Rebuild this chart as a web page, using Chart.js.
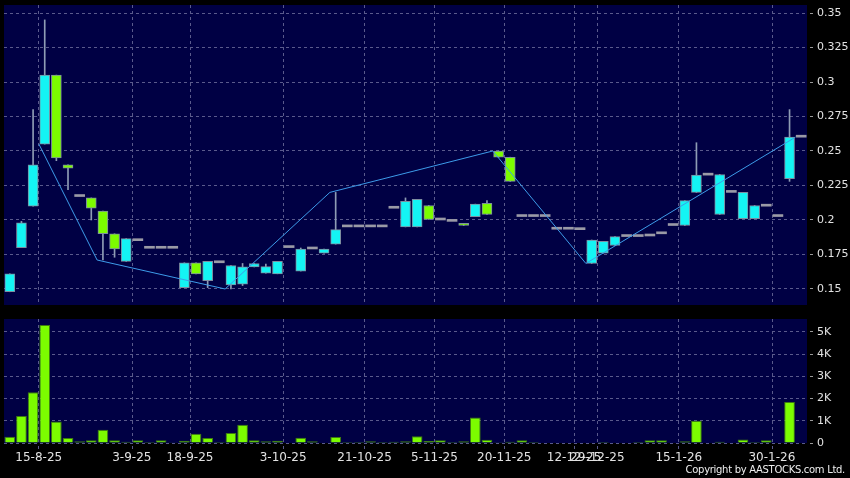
<!DOCTYPE html>
<html>
<head>
<meta charset="utf-8">
<script src="https://cdn.jsdelivr.net/npm/chart.js@4.4.1/dist/chart.umd.min.js"></script>
<style>
  html, body { margin: 0; padding: 0; background: #000; }
  #wrap { position: relative; width: 850px; height: 478px; overflow: hidden; background: #000; }
  #priceChart { position: absolute; left: 0; top: 0; }
  #volChart { position: absolute; left: 0; top: 310px; }
  #copy { position: absolute; right: 5px; top: 464px; font: 10px "DejaVu Sans"; letter-spacing: -0.3px; color: #eee; line-height: 12px; }
</style>
</head>
<body>
<div id="wrap">
  <canvas id="priceChart" width="850" height="310"></canvas>
  <canvas id="volChart" width="850" height="168"></canvas>
  <div id="copy">Copyright by AASTOCKS.com Ltd.</div>
</div>
<script>
// zilele (doar cele cu eticheta au text)
var dates = [
  '', '', '', '15-8-25', '', '', '', '', '', '',
  '', '3-9-25', '', '', '', '', '18-9-25', '', '', '',
  '', '', '', '', '3-10-25', '', '', '', '', '',
  '', '21-10-25', '', '', '', '', '', '5-11-25', '', '',
  '', '', '', '20-11-25', '', '', '', '', '', '12-12-25',
  '', '29-12-25', '', '', '', '', '', '', '15-1-26', '',
  '', '', '', '', '', '', '30-1-26', '', ''
];

var openP = [
  0.148, 0.18, 0.21, 0.255, 0.305, 0.24, 0.217, 0.216, 0.2065, 0.19,
  0.17, 0.185, 0.1795, 0.1795, 0.1795, 0.151, 0.169, 0.156, 0.169, 0.153,
  0.1535, 0.166, 0.1615, 0.161, 0.18, 0.163, 0.179, 0.176, 0.1825, 0.195,
  0.195, 0.195, 0.195, 0.2085, 0.195, 0.195, 0.2105, 0.2, 0.199, 0.1975,
  0.2025, 0.212, 0.25, 0.2455, 0.2025, 0.2025, 0.2025, 0.1933, 0.1933, 0.193,
  0.1685, 0.176, 0.1815, 0.188, 0.188, 0.1884, 0.19, 0.196, 0.196, 0.22,
  0.2325, 0.204, 0.22, 0.201, 0.201, 0.21, 0.2025, 0.23, 0.26
];
var highP = [
  0.161, 0.199, 0.28, 0.345, 0.305, 0.24, 0.217, 0.216, 0.2065, 0.19,
  0.1865, 0.185, 0.1795, 0.1795, 0.1795, 0.169, 0.169, 0.17, 0.169, 0.167,
  0.1685, 0.1685, 0.168, 0.17, 0.18, 0.1797, 0.179, 0.179, 0.22, 0.195,
  0.195, 0.195, 0.195, 0.2085, 0.216, 0.215, 0.2105, 0.2, 0.199, 0.1975,
  0.2115, 0.214, 0.25, 0.2455, 0.2025, 0.2025, 0.2025, 0.1933, 0.1933, 0.193,
  0.1855, 0.1845, 0.188, 0.188, 0.188, 0.1884, 0.19, 0.196, 0.214, 0.256,
  0.2325, 0.233, 0.22, 0.22, 0.2105, 0.21, 0.2025, 0.28, 0.26
];
var lowP = [
  0.148, 0.18, 0.21, 0.255, 0.243, 0.222, 0.217, 0.2, 0.171, 0.173,
  0.17, 0.185, 0.1795, 0.1795, 0.1795, 0.151, 0.161, 0.151, 0.169, 0.15,
  0.1525, 0.166, 0.1615, 0.161, 0.18, 0.163, 0.179, 0.176, 0.1825, 0.195,
  0.195, 0.195, 0.195, 0.2085, 0.195, 0.195, 0.2005, 0.2, 0.199, 0.196,
  0.2025, 0.204, 0.2455, 0.228, 0.2025, 0.2025, 0.2025, 0.1933, 0.1933, 0.193,
  0.1685, 0.176, 0.1815, 0.188, 0.188, 0.1884, 0.19, 0.196, 0.196, 0.22,
  0.2325, 0.204, 0.22, 0.201, 0.201, 0.21, 0.2025, 0.228, 0.26
];
var closeP = [
  0.161, 0.198, 0.24, 0.305, 0.245, 0.2375, 0.217, 0.2085, 0.19, 0.179,
  0.1865, 0.185, 0.1795, 0.1795, 0.1795, 0.169, 0.161, 0.17, 0.169, 0.167,
  0.166, 0.1685, 0.1662, 0.17, 0.18, 0.179, 0.179, 0.179, 0.193, 0.195,
  0.195, 0.195, 0.195, 0.2085, 0.2135, 0.215, 0.2005, 0.2, 0.199, 0.196,
  0.2115, 0.204, 0.2455, 0.228, 0.2025, 0.2025, 0.2025, 0.1933, 0.1933, 0.193,
  0.1855, 0.1845, 0.188, 0.188, 0.188, 0.1884, 0.19, 0.196, 0.214, 0.2325,
  0.2325, 0.233, 0.22, 0.22, 0.2105, 0.21, 0.2025, 0.26, 0.26
];
var volume = [
  280, 1220, 2280, 5310, 970, 220, 75, 120, 600, 120,
  60, 120, 45, 120, 15, 100, 420, 220, 40, 450,
  820, 120, 75, 100, 0, 240, 75, 0, 270, 40,
  40, 75, 40, 60, 75, 300, 90, 120, 40, 75,
  1150, 150, 10, 60, 120, 40, 0, 0, 0, 0,
  0, 40, 0, 0, 40, 120, 120, 0, 75, 1000,
  0, 60, 0, 160, 40, 120, 0, 1840, 0
];
// linia zigzag (index zi, valoare)
var zigIdx = [3, 8, 19, 28, 42, 50, 68];
var zigVal = [0.255, 0.171, 0.15, 0.22, 0.25, 0.1685, 0.26];

var navy = '#000044';
var gridCol = '#5a5a8c';
var textCol = '#e2e2e2';
var upCol = '#14f4f4';
var downCol = '#7cfc00';
var flatCol = '#9a9aa6';

// fundal albastru pentru zona graficului
var bgPlugin = {
  id: 'bg',
  beforeDraw: function(chart) {
    var a = chart.chartArea;
    chart.ctx.save();
    chart.ctx.fillStyle = navy;
    chart.ctx.fillRect(a.left, a.top, a.right - a.left, a.bottom - a.top);
    chart.ctx.restore();
  }
};

var bodies = openP.map(function(o, i) {
  return [Math.min(o, closeP[i]), Math.max(o, closeP[i])];
});
var wicks = highP.map(function(h, i) {
  return h > lowP[i] ? [lowP[i], h] : null;
});
var bodyColors = openP.map(function(o, i) {
  if (closeP[i] > o) return upCol;
  if (closeP[i] < o) return downCol;
  return flatCol;
});
var bodyBorders = openP.map(function(o, i) {
  return closeP[i] === o ? 0 : 1;
});
var zig = zigIdx.map(function(x, k) { return { x: x, y: zigVal[k] }; });

function vGrid(ctx) {
  return dates[ctx.index] ? gridCol : 'rgba(0,0,0,0)';
}
function noPad(s) {
  s.paddingTop = 0; s.paddingBottom = 0; s.paddingLeft = 0; s.paddingRight = 0;
}

new Chart('priceChart', {
  type: 'bar',
  data: {
    labels: dates,
    datasets: [{
      data: wicks,
      backgroundColor: '#8e9cb4',
      barThickness: 1,
      grouped: false,
      order: 3
    }, {
      data: bodies,
      backgroundColor: bodyColors,
      borderColor: '#7d8da0',
      borderWidth: bodyBorders,
      borderSkipped: false,
      barThickness: 10,
      minBarLength: 2,
      grouped: false,
      order: 2
    }, {
      type: 'line',
      xAxisID: 'xl',
      data: zig,
      borderColor: '#3d9be9',
      borderWidth: 1,
      pointRadius: 0,
      tension: 0,
      order: 1
    }]
  },
  options: {
    responsive: false,
    animation: false,
    layout: { padding: { left: 4, right: 0, top: 5, bottom: 5 } },
    plugins: { legend: { display: false }, tooltip: { enabled: false } },
    scales: {
      x: {
        offset: true,
        grid: { offset: true, color: vGrid, drawTicks: false },
        border: { display: false, dash: [3, 3] },
        ticks: { display: false },
        afterFit: function(s) { s.height = 0; noPad(s); }
      },
      // axa ascunsa pentru zigzag: punctele cad pe marginea stanga a zilei
      xl: {
        type: 'linear',
        position: 'bottom',
        offset: false,
        min: 0,
        max: 69,
        grid: { display: false },
        border: { display: false },
        ticks: { display: false },
        afterFit: function(s) { s.height = 0; noPad(s); }
      },
      y: {
        position: 'right',
        min: 0.1384,
        max: 0.3558,
        grid: { color: gridCol, tickLength: 6, tickColor: '#9a9a9a', tickBorderDash: [0, 3, 3] },
        border: { display: false, dash: [3, 3] },
        ticks: {
          stepSize: 0.025,
          includeBounds: false,
          color: textCol,
          padding: 4,
          font: { family: 'DejaVu Sans', size: 11 },
          callback: function(v) { return String(+v.toFixed(3)); }
        },
        afterFit: function(s) { s.width = 43; noPad(s); }
      }
    }
  },
  plugins: [bgPlugin]
});

new Chart('volChart', {
  type: 'bar',
  data: {
    labels: dates,
    datasets: [{
      data: volume,
      backgroundColor: downCol,
      borderColor: '#3d7a10',
      borderWidth: 1,
      categoryPercentage: 1,
      barPercentage: 0.92
    }]
  },
  options: {
    responsive: false,
    animation: false,
    layout: { padding: { left: 4, right: 0, top: 9, bottom: 0 } },
    plugins: { legend: { display: false }, tooltip: { enabled: false } },
    scales: {
      x: {
        offset: true,
        grid: { offset: true, color: vGrid, tickColor: vGrid, tickLength: 6, tickBorderDash: [0, 3, 3] },
        border: { display: false, dash: [3, 3] },
        ticks: {
          autoSkip: false,
          maxRotation: 0,
          minRotation: 0,
          color: textCol,
          padding: 2,
          labelOffset: -6,
          font: { family: 'DejaVu Sans', size: 12 },
          callback: function(v, i) { return dates[i]; }
        },
        afterFit: function(s) { s.height = 35; noPad(s); }
      },
      y: {
        position: 'right',
        min: 0,
        max: 5580,
        grid: { color: gridCol, tickLength: 6, tickColor: '#9a9a9a', tickBorderDash: [0, 3, 3] },
        border: { display: false, dash: [3, 3] },
        ticks: {
          color: textCol,
          padding: 4,
          font: { family: 'DejaVu Sans', size: 11 },
          callback: function(v) { return v === 0 ? '0' : (v / 1000) + 'K'; }
        },
        // cate 1K, fara eticheta la capat
        afterBuildTicks: function(s) {
          var t = [];
          for (var v = 0; v <= s.max; v += 1000) t.push({ value: v });
          s.ticks = t;
        },
        afterFit: function(s) { s.width = 43; noPad(s); }
      }
    }
  },
  plugins: [bgPlugin]
});
</script>
</body>
</html>
